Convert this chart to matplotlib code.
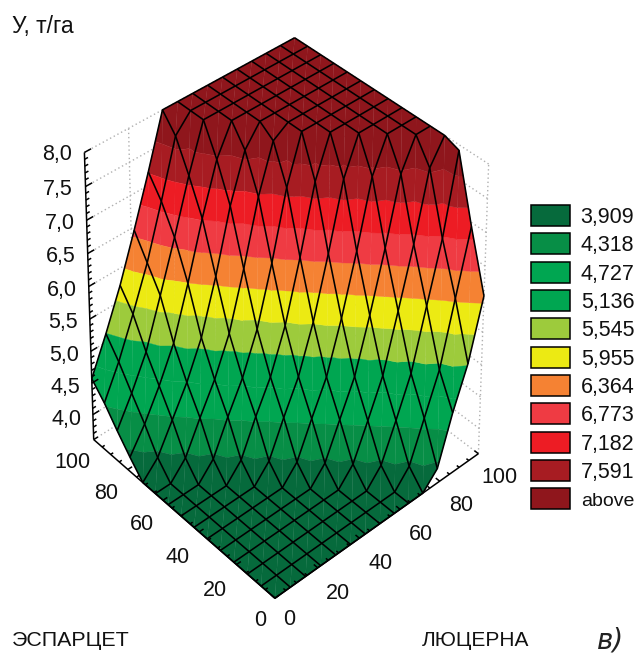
import numpy as np
import matplotlib
matplotlib.use('Agg')
import matplotlib.pyplot as plt
from matplotlib.patches import Patch
from mpl_toolkits.mplot3d.art3d import Poly3DCollection, Line3DCollection

plt.rcParams['font.family'] = ['Liberation Sans', 'DejaVu Sans']

# -----------------------
# Data
# -----------------------
lucerne = np.linspace(0, 100, 15)
esparcet = np.linspace(0, 100, 15)

# yield, rows = esparcet nodes, columns = lucerne nodes
F = 3.6
T = 8.0
yield_rows = [
    [F, F, F, F, F, F, F, F, F, F, F, 3.83, 4.55, 5.16, 6.05],
    [F, F, F, F, F, F, F, F, F, F, 3.85, 4.45, 5.05, 6.00, 6.94],
    [F, F, F, F, F, F, F, F, F, 3.85, 4.40, 4.98, 5.87, 6.75, 7.92],
    [F, F, F, F, F, F, F, F, 3.85, 4.38, 4.93, 5.78, 6.65, 7.65, T],
    [F, F, F, F, F, F, F, 3.85, 4.38, 4.90, 5.70, 6.58, 7.55, T, T],
    [F, F, F, F, F, F, 3.85, 4.38, 4.88, 5.64, 6.52, 7.50, T, T, T],
    [F, F, F, F, F, 3.85, 4.38, 4.87, 5.57, 6.47, 7.45, T, T, T, T],
    [F, F, F, F, 3.85, 4.38, 4.85, 5.50, 6.40, 7.40, T, T, T, T, T],
    [F, F, F, 3.85, 4.36, 4.82, 5.43, 6.30, 7.30, T, T, T, T, T, T],
    [F, F, 3.85, 4.33, 4.78, 5.35, 6.20, 7.15, 7.85, T, T, T, T, T, T],
    [F, 3.84, 4.28, 4.72, 5.27, 6.07, 7.00, 7.70, T, T, T, T, T, T, T],
    [3.83, 4.20, 4.65, 5.17, 5.95, 6.80, 7.55, T, T, T, T, T, T, T, T],
    [4.08, 4.52, 5.02, 5.75, 6.50, 7.30, T, T, T, T, T, T, T, T, T],
    [4.35, 4.85, 5.45, 6.10, 6.90, 7.75, T, T, T, T, T, T, T, T, T],
    [4.57, 5.13, 5.74, 6.45, 7.20, T, T, T, T, T, T, T, T, T, T],
]

levels = [3.909, 4.318, 4.727, 5.136, 5.545, 5.955, 6.364, 6.773, 7.182, 7.591]
legend_labels = ['3,909', '4,318', '4,727', '5,136', '5,545', '5,955',
                 '6,364', '6,773', '7,182', '7,591', 'above']
band_colors = ['#066a3c', '#078e46', '#00a651', '#00a651', '#9dcb3c', '#ecea13',
               '#f58233', '#ef3b43', '#ed1c24', '#a71c22', '#8f161c']

z_ticks = [4.0, 4.5, 5.0, 5.5, 6.0, 6.5, 7.0, 7.5, 8.0]
z_labels = ['4,0', '4,5', '5,0', '5,5', '6,0', '6,5', '7,0', '7,5', '8,0']
xy_ticks = [0, 20, 40, 60, 80, 100]

# -----------------------
# Camera: fit a projection to the box corners seen in the picture
# -----------------------
box_points = [
    (0, 0, F, 275.5, 596), (0, 100, F, 94, 442), (100, 0, F, 478, 456),
    (0, 100, T, 84, 151), (100, 0, T, 489, 163), (100, 100, T, 295, 40),
    (100, 100, F, 294, 310),
    (0, 71.43, F, 143, 483), (71.43, 0, F, 422, 494),
    (100, 21.43, T, 445, 135), (42.86, 100, T, 177, 102),
]


def fit_camera(points):
    rows = []
    for x, y, z, px, py in points:
        h = [x / 100, y / 100, (z - F) / (T - F), 1]
        u, v = px / 657, py / 657
        rows.append(h + [0, 0, 0, 0] + [-u * c for c in h])
        rows.append([0, 0, 0, 0] + h + [-v * c for c in h])
    p = np.linalg.svd(np.array(rows))[2][-1].reshape(3, 4)
    if p[2, 3] < 0:
        p = -p
    scale = np.array([[0.01, 0, 0, 0], [0, 0.01, 0, 0],
                      [0, 0, 1 / (T - F), -F / (T - F)], [0, 0, 0, 1]])
    pix = np.diag([657.0, 657.0, 1.0])
    p = pix @ p @ scale
    return np.vstack([p[0], p[1], [0.01, 0.01, -0.1, 0], p[2]])


def clip_poly(pts, level, keep_above):
    out = []
    n = len(pts)
    for k in range(n):
        a, b = pts[k], pts[(k + 1) % n]
        ina = (a[2] >= level) if keep_above else (a[2] <= level)
        inb = (b[2] >= level) if keep_above else (b[2] <= level)
        if ina:
            out.append(a)
        if ina != inb:
            t = (level - a[2]) / (b[2] - a[2])
            out.append(tuple(a[m] + t * (b[m] - a[m]) for m in range(3)))
    return out


# -----------------------
# Figure
# -----------------------
fig = plt.figure(figsize=(6.36, 6.57), dpi=100)
ax = fig.add_axes([-10.5 / 636, 0, 657 / 636, 1], projection='3d', computed_zorder=False)
ax.set_xticks([])
ax.set_yticks([])
ax.set_zticks([])
ax.set_axis_off()
M = fit_camera(box_points)
ax.get_proj = lambda: M
ax.viewLim.intervalx = (-10.5, 646.5)
ax.viewLim.intervaly = (657, 0)

X, Y = np.meshgrid(lucerne, esparcet)
Z = np.array(yield_rows)

# back walls, dotted
wall_segs = []
for z in [F] + z_ticks:
    wall_segs.append([(0, 100, z), (100, 100, z)])
    wall_segs.append([(100, 0, z), (100, 100, z)])
for v in xy_ticks[1:]:
    wall_segs.append([(v, 100, F), (v, 100, T)])
    wall_segs.append([(100, v, F), (100, v, T)])
wall_segs.append([(100, 0, F), (100, 0, T)])
ax.add_collection3d(Line3DCollection(wall_segs, colors='#b0b0b0', linewidths=1.0,
                                     linestyles=[(0, (1, 2))], zorder=1))

# colour bands on the surface
lows = [-np.inf] + levels
highs = levels + [np.inf]
polys, colors = [], []
for j in range(len(esparcet) - 1):
    for i in range(len(lucerne) - 1):
        c = [(X[j + a, i + b], Y[j + a, i + b], Z[j + a, i + b])
             for a, b in [(0, 0), (0, 1), (1, 1), (1, 0)]]
        for tri in ([c[0], c[1], c[2]], [c[0], c[2], c[3]]):
            for lo, hi, col in zip(lows, highs, band_colors):
                p = tri
                if np.isfinite(lo):
                    p = clip_poly(p, lo, True)
                if p and np.isfinite(hi):
                    p = clip_poly(p, hi, False)
                if len(p) >= 3:
                    polys.append(p)
                    colors.append(col)
surf = Poly3DCollection(polys, facecolors=colors, edgecolors=colors, linewidths=0.25, zorder=2)
ax.add_collection3d(surf)
ax.plot_wireframe(X, Y, Z, rstride=1, cstride=1, color='black', linewidth=1.15, zorder=3)

# axes lines and ticks
axis_segs = [[(0, 0, F), (100, 0, F)], [(0, 0, F), (0, 100, F)], [(0, 100, F), (0, 100, T)]]
for v in np.arange(0, 101, 5):
    size = 2.0 if v % 20 == 0 else 1.2
    axis_segs.append([(v, 0, F), (v, size, F)])
    axis_segs.append([(0, v, F), (size, v, F)])
for z in np.arange(3.7, 8.01, 0.1):
    size = 3.0 if abs(z * 2 - round(z * 2)) < 1e-6 else 1.5
    axis_segs.append([(0, 100, z), (size, 100, z)])
ax.add_collection3d(Line3DCollection(axis_segs, colors='black', linewidths=1.1, zorder=4))


# tick labels, placed in 2D at the projected position
def tick_label(x, y, z, s):
    u, v, _, w = M @ np.array([x, y, z, 1.0])
    ax.text2D(u / w, v / w, s, transform=ax.transData, fontsize=15.5, color='#111111',
              ha='center', va='center')


for v in xy_ticks:
    tick_label(v - 2.6, -13.2 if v else -10, F, str(v))
    tick_label(-13 if v else -10, v - 3.7, F, str(v))
for z, s in zip(z_ticks, z_labels):
    tick_label(-12, 100, z + 0.18, s)

# axis captions
fig.text(12 / 636, 1 - 26 / 657, 'У, т/га', fontsize=16.5, va='center', color='#111111')
fig.text(12 / 636, 1 - 640 / 657, 'ЭСПАРЦЕТ', fontsize=15.4, va='center', color='#111111')
fig.text(422 / 636, 1 - 640 / 657, 'ЛЮЦЕРНА', fontsize=15, va='center', color='#111111')
fig.text(597 / 636, 1 - 640 / 657, 'в)', fontsize=20, va='center', style='italic',
         family='DejaVu Sans', color='#222222')

# legend
handles = [Patch(facecolor=c, edgecolor='black', linewidth=1.1) for c in band_colors]
leg = fig.legend(handles, legend_labels, loc='upper left', bbox_to_anchor=(531 / 636, 1 - 205 / 657),
                 frameon=False, fontsize=15.5, handlelength=1.81, handleheight=1.13,
                 handletextpad=0.5, labelspacing=0.255, borderpad=0, borderaxespad=0,
                 labelcolor='#111111')
leg.get_texts()[-1].set_fontsize(14)

fig.savefig('out.png', dpi=100)
